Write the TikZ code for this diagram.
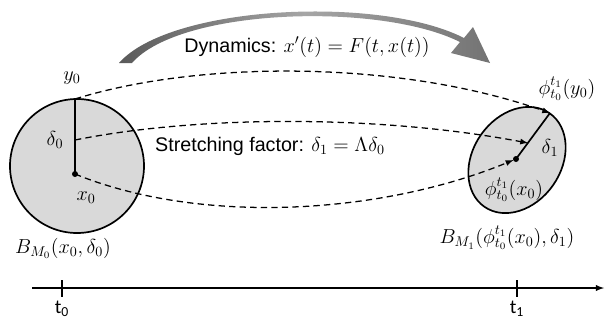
\documentclass[tikz,border=0pt]{standalone}
\usepackage{fontspec}
\setmainfont{Liberation Sans}
\newfontfamily\calfont{Carlito}

\begin{document}
\begin{tikzpicture}[x=0.025cm, y=-0.025cm, >=latex, every node/.style={font=\fontsize{14}{16}\selectfont},
        ball/.style={line width=1.2pt, fill=black!15},
        flow/.style={->, line width=0.9pt, dash pattern=on 4.5pt off 3pt}]
        \useasboundingbox (0,0) rectangle (606,324);

        % the two balls
        \draw[ball] (77,166) circle (67);
        \draw[ball, rotate around={55:(517,160)}] (517,160) ellipse (57 and 44);

        \coordinate (x0) at (75,174);
        \coordinate (y0) at (75,99);
        \coordinate (d0) at (75,140);
        \coordinate (x1) at (516,159);
        \coordinate (y1) at (550,113);
        \coordinate (d1) at (528,143);

        \draw[line width=1.2pt] (x0) -- (y0);
        \draw[line width=1.2pt] (x1) -- (y1);
        \fill (x0) circle (3);
        \fill (x1) circle (3);

        \node (ly0) at (72,78) {$y_0$};
        \node (ld0) at (55,140) {$\delta_0$};
        \node (lx0) at (86,198) {$x_0$};
        \node (lb0) at (63,248) {$B_{M_0}(x_0,\delta_0)$};
        \node (ly1) at (567,89) {$\phi_{t_0}^{t_1}(y_0)$};
        \node (ld1) at (550,148) {$\delta_1$};
        \node (lx1) at (514,190) {$\phi_{t_0}^{t_1}(x_0)$};
        \node (lb1) at (507,238) {$B_{M_1}(\phi_{t_0}^{t_1}(x_0),\delta_1)$};

        \draw[flow] (y0) .. controls (200,60) and (400,60) .. (y1);
        \draw[flow] (d0) .. controls (200,115) and (380,115) .. (d1);
        \draw[flow, shorten >=2pt] (x0) .. controls (200,225) and (380,215) .. (x1);

        % gray dynamics arrow
        \shade[left color=black!65, right color=black!55, middle color=black!35]
            (119,63) .. controls (170,5) and (380,-5) .. (464,38) -- (473,27) -- (490,63) -- (451,53) -- (460,42)
            .. controls (380,2) and (180,8) .. (132,63) -- cycle;

        \node (dyn) at (307,47) {Dynamics: $x'(t)=F(t,x(t))$};
        \node (str) at (270,146) {Stretching factor: $\delta_1=\Lambda\delta_0$};

        % time axis
        \coordinate (ts) at (32,288);
        \coordinate (te) at (604,288);
        \coordinate (tk0) at (62,288);
        \coordinate (tk1) at (517,288);
        \draw[->, line width=1pt] (ts) -- (te);
        \draw[line width=1pt] (tk0) ++(0,-8) -- ++(0,17);
        \draw[line width=1pt] (tk1) ++(0,-8) -- ++(0,17);
        \node (t0) at (62,309) {\calfont t\textsubscript{0}};
        \node (t1) at (517,309) {\calfont t\textsubscript{1}};
    \end{tikzpicture}
\end{document}
